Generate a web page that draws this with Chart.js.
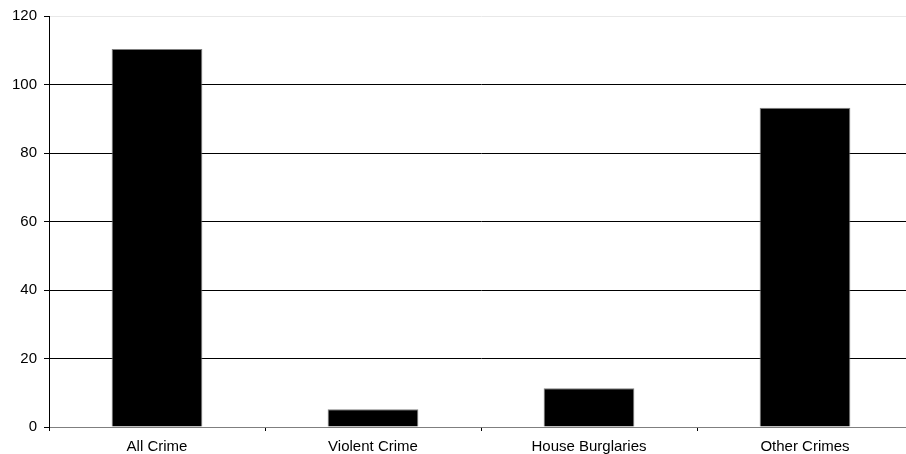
<!DOCTYPE html>
<html>
<head>
<meta charset="utf-8">
<script src="https://cdn.jsdelivr.net/npm/chart.js@4"></script>
<style>
  html, body { margin: 0; padding: 0; background: #fff; overflow: hidden; }
  #wrap { width: 913px; height: 454px; }
</style>
</head>
<body>
<div id="wrap"><canvas id="crimeChart" width="913" height="454"></canvas></div>
<script>
const categories = ['All Crime', 'Violent Crime', 'House Burglaries', 'Other Crimes'];
const crimeValues = [110.4, 5.2, 11.3, 93.2];
const yTicks = [0, 20, 40, 60, 80, 100, 120];

const ctx = document.getElementById('crimeChart').getContext('2d');

// plot runs a few px past the right edge of the shot, like the original
const crimeChart = new Chart(ctx, {
    type: 'bar',
    data: {
        labels: categories,
        datasets: [{
            data: crimeValues,
            backgroundColor: '#000000',
            borderColor: '#7f7f7f',
            borderWidth: 1,
            barPercentage: 0.42,
            categoryPercentage: 1
        }]
    },
    options: {
        responsive: false,
        animation: false,
        devicePixelRatio: 1,
        layout: {
            padding: { top: 15, right: 0, bottom: 0, left: 0 }
        },
        plugins: {
            legend: { display: false },
            tooltip: { enabled: false }
        },
        scales: {
            x: {
                grid: {
                    offset: true,
                    drawOnChartArea: false,
                    drawTicks: true,
                    tickLength: 4,
                    color: '#000000'
                },
                border: { color: '#7f7f7f', width: 1 },
                ticks: {
                    color: '#000000',
                    font: { family: 'Liberation Sans, Arial, sans-serif', size: 15 },
                    padding: 7,
                    maxRotation: 0,
                    minRotation: 0
                },
                afterFit: function (scale) { scale.height = 27; }
            },
            y: {
                min: 0,
                max: 120,
                afterBuildTicks: function (scale) {
                    scale.ticks = yTicks.map(v => ({ value: v }));
                },
                grid: {
                    color: function (c) {
                        return c.tick && c.tick.value === 120 ? '#e8e8e8' : '#000000';
                    },
                    tickColor: '#000000',
                    tickLength: 5,
                    lineWidth: 1
                },
                border: { color: '#000000', width: 1 },
                ticks: {
                    color: '#000000',
                    font: { family: 'Liberation Sans, Arial, sans-serif', size: 15 },
                    padding: 7
                },
                afterFit: function (scale) { scale.width = 49; }
            }
        }
    }
});
</script>
</body>
</html>
